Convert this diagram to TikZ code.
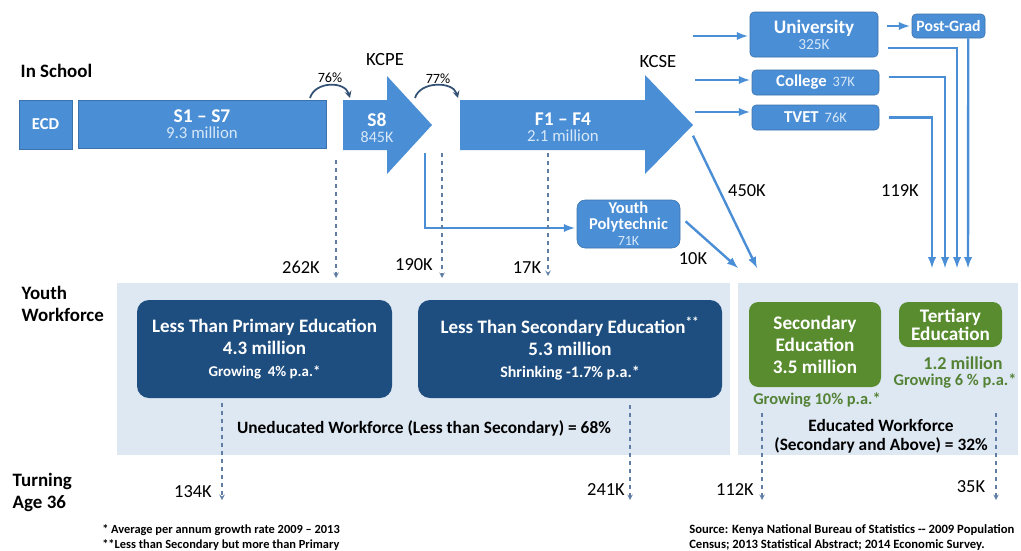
\documentclass[tikz,border=0pt]{standalone}
\usepackage{fontspec}
\setmainfont{Carlito}
\usetikzlibrary{positioning}
\usetikzlibrary{calc}
\usetikzlibrary{arrows}
\definecolor{midblue}{RGB}{74,142,214}
\definecolor{darkblue}{RGB}{30,78,128}
\definecolor{leafgreen}{RGB}{88,140,46}
\definecolor{textgreen}{RGB}{84,130,53}
\definecolor{panel}{RGB}{222,232,243}
\definecolor{hopgray}{RGB}{50,80,115}
\definecolor{dropgray}{RGB}{95,125,165}
\definecolor{paleblue}{RGB}{215,232,248}
\newdimen\px \px=0.75pt

\begin{document}
\begin{tikzpicture}
    [x=0.75pt, y=-0.75pt,
    stage/.style={fill=midblue, draw=midblue!80!black, text=white, inner sep=0pt, align=center},
    route/.style={stage, rounded corners=3pt},
    poor/.style={fill=darkblue, text=white, rounded corners=9pt, inner sep=0pt, align=center, font=\bfseries\fontsize{14.25}{16.5}\selectfont},
    rich/.style={fill=leafgreen, text=white, rounded corners=7pt, inner sep=0pt, align=center, font=\bfseries\fontsize{14.4}{16.5}\selectfont},
    flow/.style={-latex, midblue, line width=1.8pt, shorten >=1.5pt},
    drop/.style={-stealth, dashed, dropgray, line width=0.8pt},
    hop/.style={-stealth, hopgray, line width=1.3pt},
    head/.style={anchor=west, align=left, font=\bfseries\fontsize{14.2}{16.5}\selectfont},
    count/.style={font=\fontsize{13.8}{15}\selectfont},
    note/.style={anchor=west, inner sep=0pt, font=\bfseries\fontsize{9.3}{11.2}\selectfont}]
    \useasboundingbox (0,0) rectangle (1021,550);
    % workforce panels
    \fill[panel] (117,283) rectangle (730,455);
    \fill[panel] (738,283) rectangle (1018,455);
    % row labels
    \node[head] (InS) at (16,71) {In School};
    \node[head] (YW) at (17,304) {Youth\\Workforce};
    \node[head] (TA) at (8,492) {Turning\\Age 36};
    % school stages
    \node[stage, minimum width=53\px, minimum height=49\px, font=\bfseries\fontsize{12.5}{14}\selectfont] (ECD) at (45.5,124.5) {ECD};
    \node[stage, minimum width=248\px, minimum height=48\px] (S17) at (202,124)
        {{\bfseries\fontsize{14.6}{16.5}\selectfont S1 -- S7}\\{\color{paleblue}\fontsize{12.6}{16.5}\selectfont 9.3 million}};
    \fill[midblue] (343,100) -- (387,100) -- (387,76) -- (432,125) -- (387,174) -- (387,150) -- (343,150) -- cycle;
    \node[align=center, text=white, inner sep=0pt] (S8) at (377,128)
        {{\bfseries\fontsize{14.6}{15.75}\selectfont S8}\\{\color{paleblue}\fontsize{12}{15.75}\selectfont 845K}};
    \fill[midblue] (460,100) -- (645,100) -- (645,75) -- (693,125) -- (645,174) -- (645,150) -- (460,150) -- cycle;
    \node[align=center, text=white, inner sep=0pt] (F14) at (563,127)
        {{\bfseries\fontsize{14.6}{14.5}\selectfont F1 -- F4}\\{\color{paleblue}\fontsize{12.6}{14.5}\selectfont 2.1 million}};
    \node[count, font=\fontsize{14}{15}\selectfont] (KCPE) at (385,60) {KCPE};
    \node[count, font=\fontsize{14}{15}\selectfont] (KCSE) at (658,62) {KCSE};
    % progression hops
    \coordinate (h1) at (310,98);
    \coordinate (h2) at (350,98);
    \coordinate (h3) at (415,98);
    \coordinate (h4) at (458,98);
    \draw[hop] (h1) .. controls (315,81) and (345,81) .. (h2);
    \draw[hop] (h3) .. controls (420,81) and (453,81) .. (h4);
    \node[count, font=\fontsize{10.6}{12}\selectfont] (p76) at (330,78) {76\%};
    \node[count, font=\fontsize{10.6}{12}\selectfont] (p77) at (438,79) {77\%};
    % after KCSE
    \node[route, minimum width=128\px, minimum height=45\px] (Uni) at (814,34.5)
        {{\bfseries\fontsize{14.3}{15.75}\selectfont University}\\{\color{paleblue}\fontsize{11.5}{15.75}\selectfont 325K}};
    \node[route, minimum width=73\px, minimum height=24\px, font=\bfseries\fontsize{11.8}{12}\selectfont] (PG) at (948.5,26) {Post-Grad};
    \node[route, minimum width=127\px, minimum height=25\px] (Col) at (815.5,82.5)
        {{\bfseries\fontsize{12.5}{13}\selectfont College}\ \ {\color{paleblue}\fontsize{10.8}{13}\selectfont 37K}};
    \node[route, minimum width=127\px, minimum height=25\px] (TV) at (815.5,117.5)
        {{\bfseries\fontsize{12.5}{13}\selectfont TVET}\ \ {\color{paleblue}\fontsize{10.8}{13}\selectfont 76K}};
    \node[route, rounded corners=6pt, minimum width=103\px, minimum height=48\px] (Poly) at (628.5,224)
        {{\bfseries\fontsize{12.4}{12.75}\selectfont Youth}\\{\bfseries\fontsize{12.4}{12.75}\selectfont Polytechnic}\\{\color{paleblue}\fontsize{10.5}{12.75}\selectfont 71K}};
    \coordinate (u0) at (693,36);
    \coordinate (c0) at (695,80);
    \coordinate (t0) at (695,112);
    \coordinate (g0) at (887,26);
    \draw[flow] (u0) -- (u0 -| Uni.west);
    \draw[flow] (c0) -- (c0 -| Col.west);
    \draw[flow] (t0) -- (t0 -| TV.west);
    \draw[flow] (g0) -- (PG.west);
    % into the workforce
    \coordinate (e1) at (932,268);
    \coordinate (e2) at (945,268);
    \coordinate (e3) at (957,268);
    \coordinate (e4) at (968,268);
    \draw[flow, shorten >=0pt] ([xshift=7pt]TV.east) -| (e1);
    \draw[flow, shorten >=0pt] ([xshift=7pt, yshift=4pt]Col.east) -| (e2);
    \draw[flow, shorten >=0pt] ([xshift=7pt, yshift=-10pt]Uni.east) -| (e3);
    \draw[flow, shorten >=0pt] ([xshift=-12.75pt]PG.south east) -- (e4);
    \node[count] (k119) at (900,191) {119K};
    \coordinate (Ft) at (693,125);
    \coordinate (w1) at (757,268);
    \coordinate (w2) at (738,268);
    \draw[flow, shorten >=0pt] ([yshift=-8pt]Ft) -- (w1);
    \node[count] (k450) at (747,191) {450K};
    \draw[flow, shorten >=0pt] ([xshift=4pt, yshift=2pt]Poly.east) -- (w2);
    \node[count] (k10) at (693,259) {10K};
    \coordinate (s1) at (425,153);
    \draw[flow] (s1) |- ([yshift=-3pt]Poly.west);
    % early leavers
    \coordinate (d1) at (336,160);
    \coordinate (d2) at (442,153);
    \coordinate (d3) at (548,153);
    \coordinate (r1) at (336,278);
    \coordinate (r2) at (442,278);
    \coordinate (r3) at (548,276);
    \draw[drop] (d1) -- (r1);
    \draw[drop] (d2) -- (r2);
    \draw[drop] (d3) -- (r3);
    \node[count] (k262) at (301,267) {262K};
    \node[count] (k190) at (414,265) {190K};
    \node[count] (k17) at (527,268) {17K};
    % youth workforce
    \node[poor, minimum width=255\px, minimum height=98\px] (LP) at (264.5,349)
        {Less Than Primary Education\\4.3 million\\{\fontsize{11.2}{16.5}\selectfont Growing\ \ 4\% p.a.*}};
    \node[poor, minimum width=304\px, minimum height=98\px] (LS) at (570,349)
        {Less Than Secondary Education\textsuperscript{**}\\5.3 million\\{\fontsize{12}{16.5}\selectfont Shrinking -1.7\% p.a.*}};
    \node[rich, minimum width=132\px, minimum height=85\px] (Sec) at (815,344.5)
        {Secondary\\Education\\3.5 million};
    \node[rich, minimum width=103\px, minimum height=45\px, font=\bfseries\fontsize{14.4}{13.5}\selectfont] (Ter) at (950.5,324.5)
        {Tertiary\\Education};
    \node[text=textgreen, font=\bfseries\fontsize{13.6}{15}\selectfont] (Tm) at (963,363) {1.2 million};
    \node[text=textgreen, font=\bfseries\fontsize{12.3}{14}\selectfont] (Tg) at (955,381) {Growing 6 \% p.a.*};
    \node[text=textgreen, font=\bfseries\fontsize{12.3}{14}\selectfont] (Sg) at (817,400) {Growing 10\% p.a.*};
    \node[font=\bfseries\fontsize{13}{15}\selectfont] (Un) at (424,428) {Uneducated Workforce (Less than Secondary) = 68\%};
    \node[align=center, font=\bfseries\fontsize{13}{14.25}\selectfont] (Ed) at (881,436) {Educated Workforce\\(Secondary and Above) = 32\%};
    % turning 36
    \coordinate (b1) at (222,403);
    \coordinate (b2) at (630,405);
    \coordinate (b3) at (762,413);
    \coordinate (b4) at (996,413);
    \coordinate (n1) at (222,500);
    \coordinate (n2) at (630,500);
    \coordinate (n3) at (762,500);
    \coordinate (n4) at (996,500);
    \draw[drop] (b1) -- (n1);
    \draw[drop] (b2) -- (n2);
    \draw[drop] (b3) -- (n3);
    \draw[drop] (b4) -- (n4);
    \node[count] (k134) at (193,492) {134K};
    \node[count] (k241) at (606,490) {241K};
    \node[count] (k112) at (735,490) {112K};
    \node[count] (k35) at (971,487) {35K};
    % notes
    \node[note] (N1) at (102,530) {* Average per annum growth rate 2009 -- 2013};
    \node[note] (N2) at (102,545) {**Less than Secondary but more than Primary};
    \node[note, font=\bfseries\fontsize{9.5}{11.2}\selectfont] (Src1) at (689,530) {Source: Kenya National Bureau of Statistics {-}{-} 2009 Population};
    \node[note, font=\bfseries\fontsize{9.5}{11.2}\selectfont] (Src2) at (689,545) {Census; 2013 Statistical Abstract; 2014 Economic Survey.};
\end{tikzpicture}
\end{document}
